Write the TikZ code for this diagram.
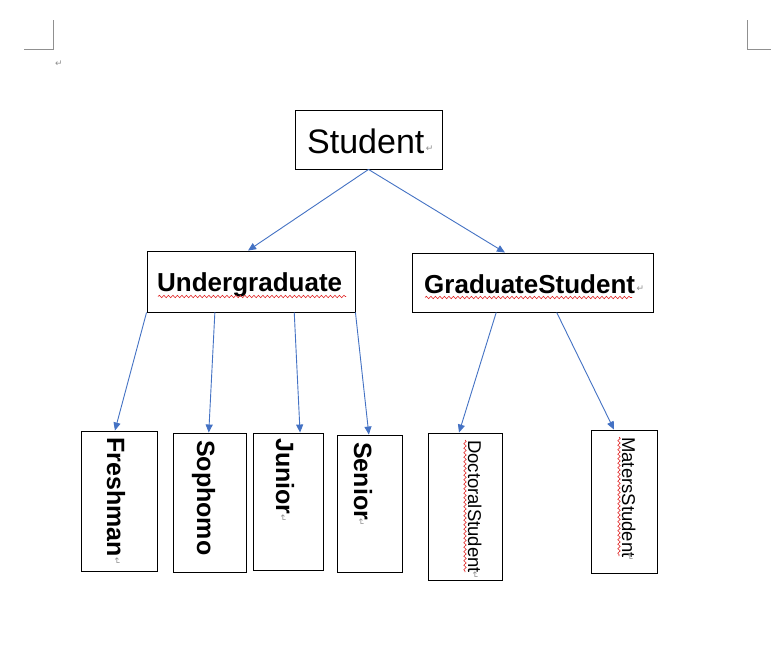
\documentclass[tikz,border=0pt]{standalone}
\usepackage{fontspec}
\setmainfont{Liberation Sans}
\newfontfamily\symfont{DejaVu Sans}
\usetikzlibrary{arrows.meta,calc,decorations.pathmorphing}
\definecolor{wordblue}{HTML}{4472C4}
\definecolor{markgray}{HTML}{909090}
\definecolor{spellred}{HTML}{E02020}
\tikzset{
  box/.style={draw=black, line width=0.9pt, inner sep=0pt, fill=white},
  arr/.style={draw=wordblue, line width=0.9pt, -{Triangle[length=8pt,width=7pt]}},
  boldtxt/.style={inner sep=0pt, font=\fontsize{25}{25}\selectfont\bfseries},
  headtxt/.style={inner sep=0pt, font=\fontsize{26}{26}\selectfont\bfseries},
  regtxt/.style={inner sep=0pt, font=\fontsize{18.5}{18.5}\selectfont},
  vtxt/.style={rotate=-90, anchor=base west},
  retmark/.style={inner sep=0pt, text=markgray, font=\symfont\fontsize{9}{9}\selectfont},
  wavy/.style={draw=spellred, line width=0.6pt, decorate, decoration={snake, amplitude=1.2pt, segment length=4.5pt}},
  corner/.style={draw=markgray, line width=1pt}
}
\begin{document}
\begin{tikzpicture}[x=1pt,y=-1pt]
\useasboundingbox[fill=white] (0,0) rectangle (771,645);
% page corner marks
\coordinate (tl) at (53,49);
\coordinate (tr) at (747,49);
\draw[corner] (24,49) -- (tl) -- (53,20);
\draw[corner] (747,20) -- (tr) -- (771,49);
\node[retmark] (r0) at (59,64) {↵};
% boxes
\node[box, minimum width=147pt, minimum height=59pt] (st) at (368.5,139.5) {};
\node[box, minimum width=208pt, minimum height=61pt] (ug) at (251,281.5) {};
\node[box, minimum width=241pt, minimum height=59pt] (gs) at (532.5,282.5) {};
\node[box, minimum width=76pt, minimum height=140pt] (fr) at (119,501) {};
\node[box, minimum width=73pt, minimum height=139pt] (so) at (209.5,502.5) {};
\node[box, minimum width=70pt, minimum height=137pt] (ju) at (288,501.5) {};
\node[box, minimum width=65pt, minimum height=137pt] (se) at (369.5,503.5) {};
\node[box, minimum width=74pt, minimum height=147pt] (do) at (465,506.5) {};
\node[box, minimum width=66pt, minimum height=143pt] (ma) at (624,501.5) {};
% texts
\node[inner sep=0pt, anchor=base west, font=\fontsize{34}{34}\selectfont] (tst) at (307,153) {Student};
\node[retmark, anchor=west] (rst) at (tst.base east) [yshift=4pt, xshift=1pt] {↵};
\node[headtxt, anchor=base west] (tug) at (157,291) {Undergraduate};
\node[headtxt, anchor=base west] (tgs) at (424,293) {GraduateStudent};
\node[retmark, anchor=west] (rgs) at (tgs.base east) [yshift=4pt, xshift=1pt] {↵};
\node[boldtxt, vtxt] (tfr) at (107,437) {Freshman};
\node[boldtxt, vtxt] (tso) at (197,440) {Sophomo};
\node[boldtxt, vtxt] (tju) at (276,438) {Junior};
\node[boldtxt, vtxt] (tse) at (354,442) {Senior};
\node[regtxt, vtxt] (tdo) at (468,440) {DoctoralStudent};
\node[regtxt, vtxt] (tma) at (622,437) {MatersStudent};
% spelling underlines
\draw[wavy] (158,296.5) -- (346,296.5);
\draw[wavy] (425,297.5) -- (632,297.5);
\draw[wavy] (465,440) -- (465,572);
\draw[wavy] (619,437) -- (619,556);
% return marks
\node[retmark, rotate=-90] (rfr) at (117,561) {↵};
\node[retmark, rotate=-90] (rju) at (283,518) {↵};
\node[retmark, rotate=-90] (rse) at (361,522) {↵};
\node[retmark, rotate=-90] (rdo) at (475,575) {↵};
\node[retmark, rotate=-90] (rma) at (630,557) {↵};
% connectors
\draw[arr] (st.south) -- ($(ug.north west)!0.486!(ug.north east)$);
\draw[arr] (st.south) -- ($(gs.north west)!0.386!(gs.north east)$);
\draw[arr] ($(ug.south west)!0.0!(ug.south east)$) -- ($(fr.north west)!0.447!(fr.north east)$);
\draw[arr] ($(ug.south west)!0.327!(ug.south east)$) -- ($(so.north west)!0.49!(so.north east)$);
\draw[arr] ($(ug.south west)!0.707!(ug.south east)$) -- ($(ju.north west)!0.67!(ju.north east)$);
\draw[arr] ($(ug.south west)!1.0!(ug.south east)$) -- ($(se.north west)!0.49!(se.north east)$);
\draw[arr] ($(gs.south west)!0.35!(gs.south east)$) -- ($(do.north west)!0.42!(do.north east)$);
\draw[arr] ($(gs.south west)!0.6!(gs.south east)$) -- ($(ma.north west)!0.35!(ma.north east)$);
\end{tikzpicture}
\end{document}
